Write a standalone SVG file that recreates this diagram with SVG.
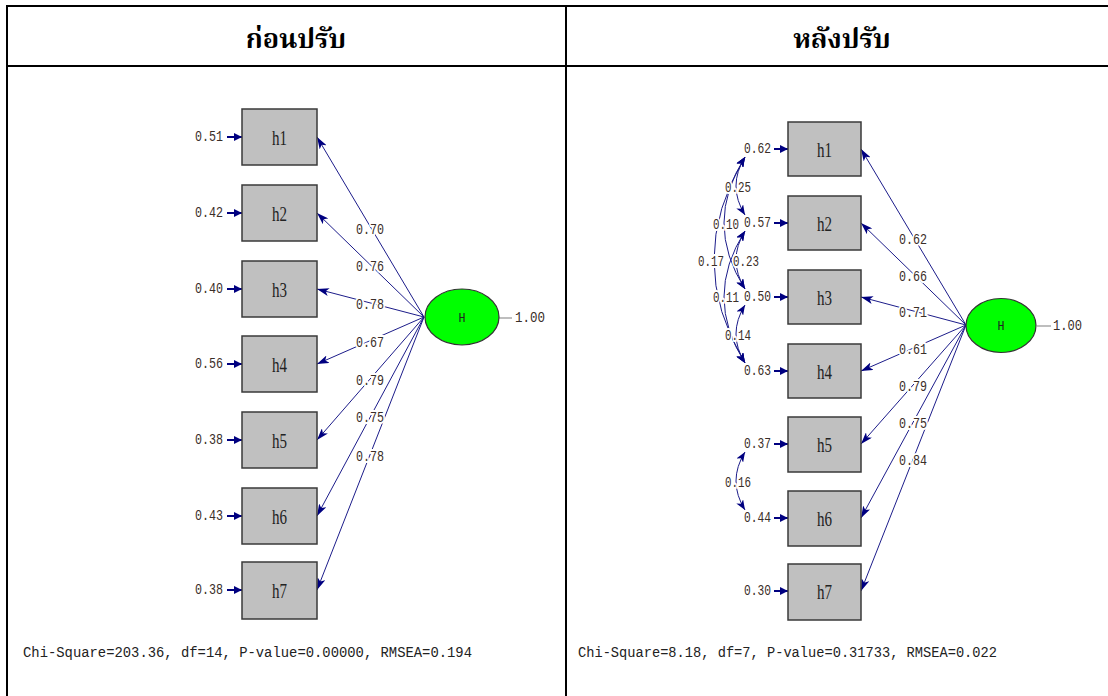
<svg xmlns="http://www.w3.org/2000/svg" width="1108" height="696" viewBox="0 0 1108 696">
<style>
.frame{stroke:#000;stroke-width:2;fill:none}
.hdr{font-family:"Noto Serif Thai","Noto Sans Thai","Liberation Serif",serif;font-weight:bold;font-size:27px;fill:#000;text-anchor:middle}
.box{fill:#c0c0c0;stroke:#3a3a3a;stroke-width:1.5}
.lat{fill:#00ff00;stroke:#333;stroke-width:1.2}
.bl{font-family:"Liberation Serif",serif;font-size:20px;fill:#222;text-anchor:middle}
.H{font-family:"Liberation Mono",monospace;font-size:13px;fill:#222;text-anchor:middle}
.num{font-family:"Liberation Mono",monospace;font-size:14px;fill:#3a2e28}
.mid{text-anchor:middle}
.end{text-anchor:end}
.halo{stroke:#fff;stroke-width:4;paint-order:stroke;stroke-linejoin:round}
.path{stroke:#1c1c8a;stroke-width:1;fill:none;marker-end:url(#ah)}
.err{stroke:#000080;stroke-width:2;fill:none;marker-end:url(#eh)}
.cov{stroke:#1c1c8a;stroke-width:1;fill:none;marker-start:url(#ch);marker-end:url(#ch)}
.var{stroke:#a8a8a8;stroke-width:1.5}
.fit{font-family:"Liberation Mono",monospace;font-size:14px;fill:#222}
</style>
<defs>
<marker id="ah" viewBox="0 0 12 8" refX="12" refY="4" markerWidth="12" markerHeight="8" markerUnits="userSpaceOnUse" orient="auto"><path d="M0,0 L12,4 L0,8 L3,4 z" fill="#000080"/></marker>
<marker id="eh" viewBox="0 0 8 8" refX="8" refY="4" markerWidth="8" markerHeight="8" markerUnits="userSpaceOnUse" orient="auto"><path d="M0,0 L8,4 L0,8 z" fill="#000080"/></marker>
<marker id="ch" viewBox="0 0 10 8" refX="10" refY="4" markerWidth="10" markerHeight="8" markerUnits="userSpaceOnUse" orient="auto-start-reverse"><path d="M0,0 L10,4 L0,8 L2.5,4 z" fill="#000080"/></marker>
</defs>
<rect width="1108" height="696" fill="#fff"/>
<g id="table">
<path class="frame" d="M7,6 H1108 M7,66 H1108 M7,5 V696 M566,5 V696"/>
<text class="hdr" x="296" y="48">ก่อนปรับ</text>
<text class="hdr" x="842" y="48">หลังปรับ</text>
</g>
<g id="connectors">
<line class="path" x1="424" y1="317" x2="317" y2="137"/>
<line class="path" x1="424" y1="317" x2="317" y2="213"/>
<line class="path" x1="424" y1="317" x2="317" y2="289"/>
<line class="path" x1="424" y1="317" x2="317" y2="364"/>
<line class="path" x1="424" y1="317" x2="317" y2="440"/>
<line class="path" x1="424" y1="317" x2="317" y2="516"/>
<line class="path" x1="424" y1="317" x2="317" y2="590"/>
<line class="err" x1="227" y1="137" x2="242" y2="137"/>
<line class="err" x1="227" y1="213" x2="242" y2="213"/>
<line class="err" x1="227" y1="289" x2="242" y2="289"/>
<line class="err" x1="227" y1="364" x2="242" y2="364"/>
<line class="err" x1="227" y1="440" x2="242" y2="440"/>
<line class="err" x1="227" y1="516" x2="242" y2="516"/>
<line class="err" x1="227" y1="590" x2="242" y2="590"/>
<line class="var" x1="499" y1="318" x2="512" y2="318"/>
<line class="path" x1="966" y1="325" x2="861" y2="149"/>
<line class="path" x1="966" y1="325" x2="861" y2="223"/>
<line class="path" x1="966" y1="325" x2="861" y2="297"/>
<line class="path" x1="966" y1="325" x2="861" y2="371"/>
<line class="path" x1="966" y1="325" x2="861" y2="444"/>
<line class="path" x1="966" y1="325" x2="861" y2="518"/>
<line class="path" x1="966" y1="325" x2="861" y2="591"/>
<line class="err" x1="774" y1="149" x2="788" y2="149"/>
<line class="err" x1="774" y1="223" x2="788" y2="223"/>
<line class="err" x1="774" y1="297" x2="788" y2="297"/>
<line class="err" x1="774" y1="371" x2="788" y2="371"/>
<line class="err" x1="774" y1="444" x2="788" y2="444"/>
<line class="err" x1="774" y1="518" x2="788" y2="518"/>
<line class="err" x1="774" y1="591" x2="788" y2="591"/>
<line class="var" x1="1037" y1="326" x2="1051" y2="326"/>
<path class="cov" d="M745,157 Q727,186 745,215"/>
<path class="cov" d="M745,157 Q703,223 745,289"/>
<path class="cov" d="M745,157 Q683,260 745,363"/>
<path class="cov" d="M745,231 Q727,260 745,289"/>
<path class="cov" d="M745,231 Q703,297 745,363"/>
<path class="cov" d="M745,305 Q727,334 745,363"/>
<path class="cov" d="M745,452 Q727,481 745,510"/>
</g>
<g id="labels">
<text class="num mid halo" x="370" y="234" textLength="28" lengthAdjust="spacingAndGlyphs">0.70</text>
<text class="num mid halo" x="370" y="271" textLength="28" lengthAdjust="spacingAndGlyphs">0.76</text>
<text class="num mid halo" x="370" y="309" textLength="28" lengthAdjust="spacingAndGlyphs">0.78</text>
<text class="num mid halo" x="370" y="347" textLength="28" lengthAdjust="spacingAndGlyphs">0.67</text>
<text class="num mid halo" x="370" y="385" textLength="28" lengthAdjust="spacingAndGlyphs">0.79</text>
<text class="num mid halo" x="370" y="422" textLength="28" lengthAdjust="spacingAndGlyphs">0.75</text>
<text class="num mid halo" x="370" y="461" textLength="28" lengthAdjust="spacingAndGlyphs">0.78</text>
<text class="num mid halo" x="913" y="244" textLength="28" lengthAdjust="spacingAndGlyphs">0.62</text>
<text class="num mid halo" x="913" y="281" textLength="28" lengthAdjust="spacingAndGlyphs">0.66</text>
<text class="num mid halo" x="913" y="317" textLength="28" lengthAdjust="spacingAndGlyphs">0.71</text>
<text class="num mid halo" x="913" y="354" textLength="28" lengthAdjust="spacingAndGlyphs">0.61</text>
<text class="num mid halo" x="913" y="391" textLength="28" lengthAdjust="spacingAndGlyphs">0.79</text>
<text class="num mid halo" x="913" y="428" textLength="28" lengthAdjust="spacingAndGlyphs">0.75</text>
<text class="num mid halo" x="913" y="465" textLength="28" lengthAdjust="spacingAndGlyphs">0.84</text>
<text class="num mid halo" x="738" y="192" textLength="26" lengthAdjust="spacingAndGlyphs">0.25</text>
<text class="num mid halo" x="726" y="229" textLength="26" lengthAdjust="spacingAndGlyphs">0.10</text>
<text class="num mid halo" x="711" y="266" textLength="26" lengthAdjust="spacingAndGlyphs">0.17</text>
<text class="num mid halo" x="746" y="266" textLength="26" lengthAdjust="spacingAndGlyphs">0.23</text>
<text class="num mid halo" x="726" y="302" textLength="26" lengthAdjust="spacingAndGlyphs">0.11</text>
<text class="num mid halo" x="738" y="340" textLength="26" lengthAdjust="spacingAndGlyphs">0.14</text>
<text class="num mid halo" x="738" y="487" textLength="26" lengthAdjust="spacingAndGlyphs">0.16</text>
<text class="num end" x="223" y="141" textLength="28" lengthAdjust="spacingAndGlyphs">0.51</text>
<text class="num end" x="223" y="217" textLength="28" lengthAdjust="spacingAndGlyphs">0.42</text>
<text class="num end" x="223" y="293" textLength="28" lengthAdjust="spacingAndGlyphs">0.40</text>
<text class="num end" x="223" y="368" textLength="28" lengthAdjust="spacingAndGlyphs">0.56</text>
<text class="num end" x="223" y="444" textLength="28" lengthAdjust="spacingAndGlyphs">0.38</text>
<text class="num end" x="223" y="520" textLength="28" lengthAdjust="spacingAndGlyphs">0.43</text>
<text class="num end" x="223" y="594" textLength="28" lengthAdjust="spacingAndGlyphs">0.38</text>
<text class="num end" x="771" y="153" textLength="27" lengthAdjust="spacingAndGlyphs">0.62</text>
<text class="num end" x="771" y="227" textLength="27" lengthAdjust="spacingAndGlyphs">0.57</text>
<text class="num end" x="771" y="301" textLength="27" lengthAdjust="spacingAndGlyphs">0.50</text>
<text class="num end" x="771" y="375" textLength="27" lengthAdjust="spacingAndGlyphs">0.63</text>
<text class="num end" x="771" y="448" textLength="27" lengthAdjust="spacingAndGlyphs">0.37</text>
<text class="num end" x="771" y="522" textLength="27" lengthAdjust="spacingAndGlyphs">0.44</text>
<text class="num end" x="771" y="595" textLength="27" lengthAdjust="spacingAndGlyphs">0.30</text>
<text class="num" x="515" y="322" textLength="30" lengthAdjust="spacingAndGlyphs">1.00</text>
<text class="num" x="1053" y="330" textLength="29" lengthAdjust="spacingAndGlyphs">1.00</text>
<text class="fit" x="23" y="657" textLength="449" lengthAdjust="spacingAndGlyphs">Chi-Square=203.36, df=14, P-value=0.00000, RMSEA=0.194</text>
<text class="fit" x="578" y="657" textLength="419" lengthAdjust="spacingAndGlyphs">Chi-Square=8.18, df=7, P-value=0.31733, RMSEA=0.022</text>
</g>
<g id="L_h1"><rect class="box" x="242" y="109" width="75" height="56"/><text class="bl" x="279.5" y="144.5" textLength="15" lengthAdjust="spacingAndGlyphs">h1</text></g>
<g id="L_h2"><rect class="box" x="242" y="185" width="75" height="56"/><text class="bl" x="279.5" y="220.5" textLength="15" lengthAdjust="spacingAndGlyphs">h2</text></g>
<g id="L_h3"><rect class="box" x="242" y="261" width="75" height="56"/><text class="bl" x="279.5" y="296.5" textLength="15" lengthAdjust="spacingAndGlyphs">h3</text></g>
<g id="L_h4"><rect class="box" x="242" y="336" width="75" height="56"/><text class="bl" x="279.5" y="371.5" textLength="15" lengthAdjust="spacingAndGlyphs">h4</text></g>
<g id="L_h5"><rect class="box" x="242" y="412" width="75" height="56"/><text class="bl" x="279.5" y="447.5" textLength="15" lengthAdjust="spacingAndGlyphs">h5</text></g>
<g id="L_h6"><rect class="box" x="242" y="488" width="75" height="56"/><text class="bl" x="279.5" y="523.5" textLength="15" lengthAdjust="spacingAndGlyphs">h6</text></g>
<g id="L_h7"><rect class="box" x="242" y="562" width="75" height="57"/><text class="bl" x="279.5" y="597.5" textLength="15" lengthAdjust="spacingAndGlyphs">h7</text></g>
<g id="L_H"><ellipse class="lat" cx="462" cy="317" rx="37" ry="28"/><text class="H" x="462" y="321.5" textLength="7" lengthAdjust="spacingAndGlyphs">H</text></g>
<g id="R_h1"><rect class="box" x="788" y="122" width="73" height="54"/><text class="bl" x="824.5" y="156.5" textLength="15" lengthAdjust="spacingAndGlyphs">h1</text></g>
<g id="R_h2"><rect class="box" x="788" y="196" width="73" height="54"/><text class="bl" x="824.5" y="230.5" textLength="15" lengthAdjust="spacingAndGlyphs">h2</text></g>
<g id="R_h3"><rect class="box" x="788" y="270" width="73" height="54"/><text class="bl" x="824.5" y="304.5" textLength="15" lengthAdjust="spacingAndGlyphs">h3</text></g>
<g id="R_h4"><rect class="box" x="788" y="344" width="73" height="54"/><text class="bl" x="824.5" y="378.5" textLength="15" lengthAdjust="spacingAndGlyphs">h4</text></g>
<g id="R_h5"><rect class="box" x="788" y="417" width="73" height="55"/><text class="bl" x="824.5" y="451.5" textLength="15" lengthAdjust="spacingAndGlyphs">h5</text></g>
<g id="R_h6"><rect class="box" x="788" y="491" width="73" height="55"/><text class="bl" x="824.5" y="525.5" textLength="15" lengthAdjust="spacingAndGlyphs">h6</text></g>
<g id="R_h7"><rect class="box" x="788" y="564" width="73" height="56"/><text class="bl" x="824.5" y="598.5" textLength="15" lengthAdjust="spacingAndGlyphs">h7</text></g>
<g id="R_H"><ellipse class="lat" cx="1001" cy="325.5" rx="35" ry="27"/><text class="H" x="1001" y="330" textLength="7" lengthAdjust="spacingAndGlyphs">H</text></g>
</svg>
